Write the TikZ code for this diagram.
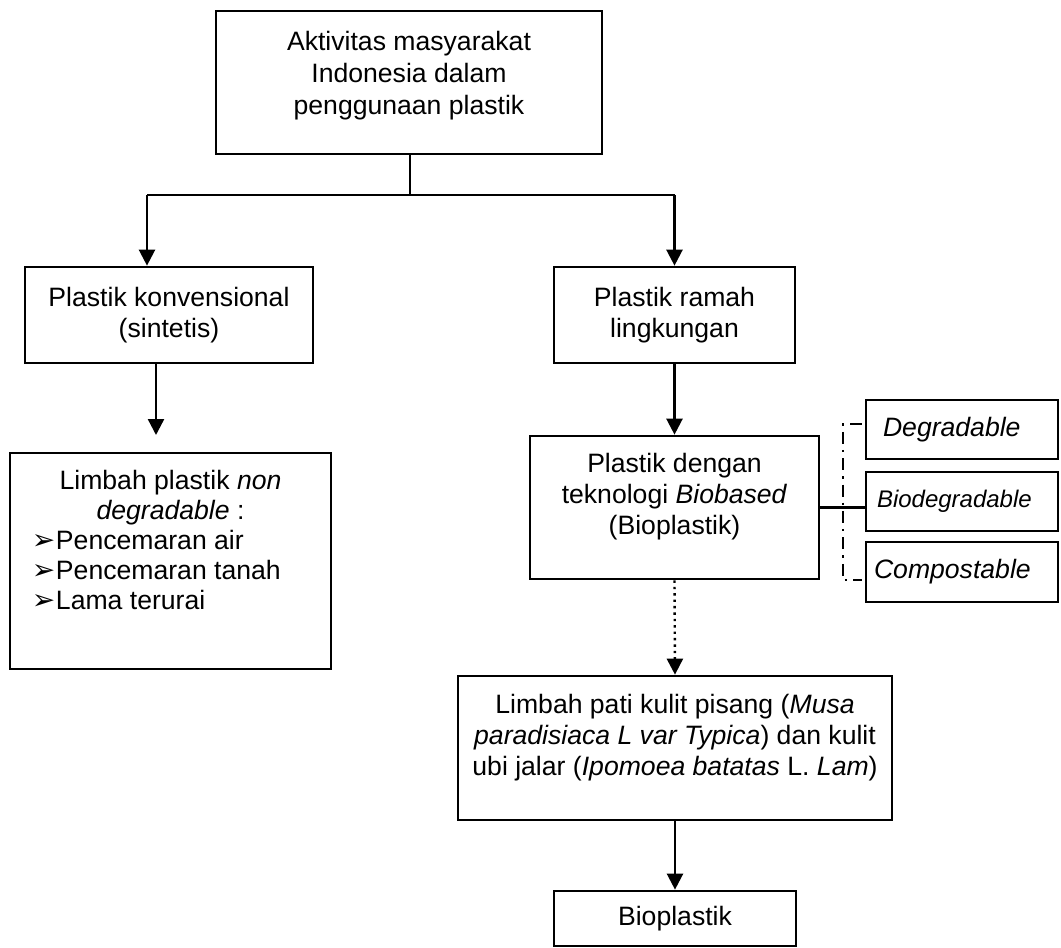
\documentclass[tikz,border=0pt]{standalone}
\usepackage{fontspec}
\setmainfont{Liberation Sans}
\newfontfamily\dvfont{DejaVu Sans}
\usetikzlibrary{arrows.meta}
\newcommand{\bul}{{\dvfont\fontsize{14}{15}\selectfont ➢}}
\newcommand{\bitem}[1]{\hspace*{11pt}\makebox[12pt][l]{\bul}#1}
\begin{document}
\begin{tikzpicture}[x=0.5pt,y=-0.5pt,
  box/.style={draw, line width=1.35pt, inner sep=0pt},
  conn/.style={line width=1.2pt},
  arr/.style={line width=1.2pt, -{Triangle[width=8pt,length=8pt]}},
  brk/.style={line width=1.1pt, dash pattern=on 6pt off 3pt on 1.2pt off 3pt},
  font=\fontsize{13.3}{15.5}\selectfont]
\useasboundingbox (0,0) rectangle (1061,948);
% boxes
\node[box, minimum width=193pt, minimum height=71.5pt] (top) at (409,82.5)
  {\parbox[c][71.5pt][t]{193pt}{\centering\vspace*{10pt}\baselineskip=16pt Aktivitas masyarakat\\Indonesia dalam\\penggunaan plastik\par}};
\node[box, align=center, minimum width=144pt, minimum height=48pt] (konv) at (169,315)
  {Plastik konvensional\\(sintetis)};
\node[box, align=center, minimum width=120.5pt, minimum height=48pt] (ramah) at (674.5,315)
  {Plastik ramah\\lingkungan};
\node[box, minimum width=160.5pt, minimum height=108pt] (lnon) at (170.5,561)
  {\parbox[c][108pt][t]{160.5pt}{\vspace*{8.5pt}\baselineskip=15pt
   {\centering Limbah plastik \textit{non}\\\textit{degradable} :\par}
   {\raggedright\bitem{Pencemaran air}\\\bitem{Pencemaran tanah}\\\bitem{Lama terurai}\par}}};
\node[box, minimum width=144.5pt, minimum height=71.5pt] (bio) at (674.5,507.5)
  {\parbox[c][71.5pt][t]{144.5pt}{\centering\vspace*{8.5pt}Plastik dengan\\teknologi \textit{Biobased}\\(Bioplastik)\par}};
\node[box, minimum width=96pt, minimum height=29.5pt] (deg) at (962,429.5)
  {\parbox[c][29.5pt][c]{96pt}{\hspace*{8.5pt}\textit{Degradable}}};
\node[box, minimum width=96pt, minimum height=29.5pt] (bdeg) at (962,501.5)
  {\parbox[c][29.5pt][c]{96pt}{\hspace*{5.5pt}\fontsize{12}{14}\selectfont\textit{Biodegradable}}};
\node[box, minimum width=96pt, minimum height=30pt] (comp) at (962,572)
  {\parbox[c][30pt][c]{96pt}{\hspace*{4pt}\textit{Compostable}}};
\node[box, minimum width=217pt, minimum height=72pt] (pati) at (675,748)
  {\parbox[c][72pt][t]{217pt}{\centering\vspace*{9pt}Limbah pati kulit pisang (\textit{Musa}\\\textit{paradisiaca L var Typica}) dan kulit\\ubi jalar (\textit{Ipomoea batatas} L. \textit{Lam})\par}};
\node[box, minimum width=121pt, minimum height=27.5pt] (biop) at (675,918.5) {Bioplastik};
% connectors
\coordinate (split) at (410,195);
\coordinate (lk) at (147,195);
\coordinate (rk) at (674.5,195);
\draw[conn] (top.south -| split) -- (split);
\draw[conn] (lk) -- (rk);
\draw[arr] (lk) -- (lk |- konv.north);
\draw[arr] (rk) -- (ramah.north);
\coordinate (kend) at (156,435);
\draw[arr] (kend |- konv.south) -- (kend);
\draw[arr] (ramah.south) -- (bio.north);
\draw[arr, dotted] (bio.south) -- (pati.north);
\draw[arr] (pati.south) -- (biop.north);
\draw[conn] (bio.east) -- (bio.east -| bdeg.west);
\coordinate (bt) at (843,424);
\coordinate (bb) at (843,580);
\draw[brk] ([xshift=-1.5pt]bt -| deg.west) -- (bt) -- (bb) -- ([xshift=-1.5pt]bb -| comp.west);
\end{tikzpicture}
\end{document}
